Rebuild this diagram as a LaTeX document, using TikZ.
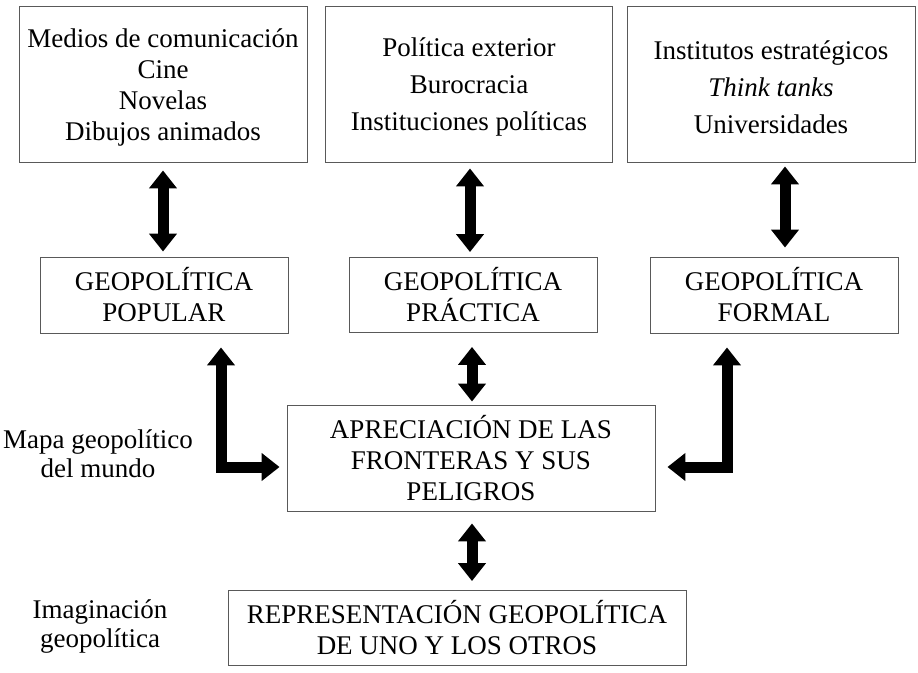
\documentclass[tikz,border=0pt]{standalone}
\usepackage{fontspec}
\setmainfont{Liberation Serif}
\usetikzlibrary{arrows.meta}
\begin{document}
\begin{tikzpicture}[x=1pt,y=-1pt]
		\tikzstyle{cuadro} = [draw=black!65, line width=0.9pt, inner sep=0, align=center, font=\fontsize{27}{31}\selectfont]
		\tikzstyle{ancho} = [font=\fontsize{27}{37}\selectfont]
		\tikzstyle{etiqueta} = [inner sep=0, align=center, font=\fontsize{27}{29}\selectfont]
		\tikzstyle{flecha} = [line width=11pt, {Triangle[width=27pt,length=18pt]}-{Triangle[width=27pt,length=18pt]}]
		\useasboundingbox (0,0) rectangle (918,672);
		
		\node [cuadro, minimum width=288pt, minimum height=156pt] (medios) at (163,84) {\rule{0pt}{26pt}Medios de comunicación\\Cine\\Novelas\\Dibujos animados};
		\node [cuadro, ancho, minimum width=287pt, minimum height=156pt] (politica) at (469,84) {\rule{0pt}{25pt}Política exterior\\Burocracia\\Instituciones políticas};
		\node [cuadro, ancho, minimum width=288pt, minimum height=156pt] (institutos) at (771,84) {\rule{0pt}{25pt}Institutos estratégicos\\\textit{Think tanks}\\Universidades};
		
		\node [cuadro, minimum width=248pt, minimum height=76pt] (popular) at (164,295) {GEOPOLÍTICA\\POPULAR};
		\node [cuadro, minimum width=248pt, minimum height=75pt] (practica) at (473,295) {GEOPOLÍTICA\\PRÁCTICA};
		\node [cuadro, minimum width=248pt, minimum height=76pt] (formal) at (774,295) {GEOPOLÍTICA\\FORMAL};
		
		\node [cuadro, minimum width=368pt, minimum height=106pt] (fronteras) at (471,458) {APRECIACIÓN DE LAS\\FRONTERAS Y SUS\\PELIGROS};
		\node [cuadro, minimum width=458pt, minimum height=75pt] (representacion) at (457,628) {REPRESENTACIÓN GEOPOLÍTICA\\DE UNO Y LOS OTROS};
		
		\node [etiqueta] (mapa) at (98,454) {Mapa geopolítico\\del mundo};
		\node [etiqueta] (imaginacion) at (100,627) {Imaginación\\geopolítica};
		
		\draw [flecha, shorten <=8pt, shorten >=5pt] (medios.south) -- (medios.south |- popular.north);
		\draw [flecha, shorten <=6pt, shorten >=5pt] ([xshift=1pt]politica.south) -- ([xshift=1pt]politica.south |- practica.north);
		\draw [flecha, shorten <=4pt, shorten >=9pt] ([xshift=14pt]institutos.south) -- ([xshift=14pt]institutos.south |- formal.north);
		\draw [flecha, shorten <=14pt, shorten >=3pt] ([xshift=-1pt]practica.south) -- ([xshift=-1pt]practica.south |- fronteras.north);
		\draw [flecha, shorten <=12pt, shorten >=9pt] ([xshift=1pt]fronteras.south) -- ([xshift=1pt]fronteras.south |- representacion.north);
		\draw [flecha, shorten <=14pt, shorten >=7pt] ([xshift=57pt]popular.south) |- ([yshift=-9pt]fronteras.west);
		\draw [flecha, shorten <=14pt, shorten >=12pt] ([xshift=-47pt]formal.south) |- ([yshift=-9pt]fronteras.east);
		\end{tikzpicture}
\end{document}
